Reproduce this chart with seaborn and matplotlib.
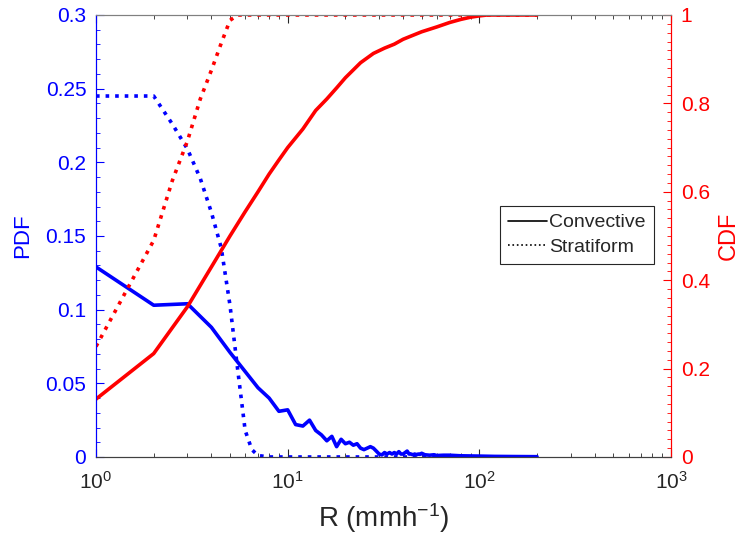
import matplotlib
matplotlib.use("Agg")
import matplotlib.pyplot as plt
import seaborn as sns
from matplotlib.lines import Line2D
from matplotlib.ticker import MultipleLocator, LogLocator

# convective rain rate bins and PDF
r_conv = [1, 2, 3, 4, 5, 6, 7, 8, 9, 10, 11, 12, 13, 14, 15, 16, 17, 18, 19, 20,
          21, 22, 23, 24, 25, 26, 27, 28, 29, 30, 31, 32, 33, 34, 35, 36, 37, 38, 39, 40,
          41, 42, 43, 44, 45, 46, 47, 48, 49, 50, 52, 55, 58, 60, 65, 70, 80, 90, 100,
          120, 150, 200]
pdf_conv = [0.129, 0.103, 0.104, 0.088, 0.071, 0.058, 0.047, 0.040, 0.031, 0.032,
            0.022, 0.021, 0.025, 0.018, 0.015, 0.011, 0.014, 0.007, 0.012, 0.009,
            0.010, 0.008, 0.009, 0.006, 0.005, 0.006, 0.007, 0.006, 0.004, 0.002,
            0.0014, 0.003, 0.002, 0.003, 0.002, 0.003, 0.002, 0.0036, 0.002, 0.002,
            0.003, 0.004, 0.002, 0.002, 0.0015, 0.002, 0.0015, 0.002, 0.0018, 0.0025,
            0.0015, 0.0012, 0.0015, 0.001, 0.0012, 0.0012, 0.0008, 0.0007, 0.0006,
            0.0004, 0.0003, 0.0002]

# convective CDF
r_conv_cdf = [1, 2, 3, 4, 5, 6, 7, 8, 9, 10, 12, 14, 16, 18, 20, 24, 28, 32, 36, 40,
              45, 50, 60, 70, 80, 90, 100, 110, 150, 200]
cdf_conv = [0.131, 0.234, 0.34, 0.43, 0.50, 0.555, 0.60, 0.64, 0.672, 0.70, 0.742,
            0.784, 0.81, 0.835, 0.858, 0.892, 0.913, 0.925, 0.934, 0.945, 0.954,
            0.962, 0.973, 0.983, 0.99, 0.995, 0.998, 1.0, 1.0, 1.0]

# stratiform PDF / CDF
r_strat = [1, 2, 2.5, 3, 3.5, 4, 4.5, 5, 5.5, 6, 6.5, 7, 8, 10, 20, 50, 100, 200]
pdf_strat = [0.245, 0.245, 0.226, 0.209, 0.189, 0.166, 0.142, 0.103, 0.058, 0.018,
             0.005, 0.001, 0, 0, 0, 0, 0, 0]
cdf_strat = [0.25, 0.49, 0.625, 0.715, 0.81, 0.875, 0.936, 0.988, 1.0, 1.0,
             1.0, 1.0, 1.0, 1.0, 1.0, 1.0, 1.0, 1.0]

sns.set_style("white")
plt.rcParams["font.family"] = ["Liberation Sans", "DejaVu Sans"]
plt.rcParams["mathtext.fontset"] = "custom"
plt.rcParams["mathtext.rm"] = "Liberation Sans"
plt.rcParams["mathtext.it"] = "Liberation Sans:italic"

fig = plt.figure(figsize=(7.46, 5.41), dpi=100)
ax = fig.add_axes([0.1287, 0.1553, 0.7708, 0.8170])
ax2 = ax.twinx()

lw = 2.6
sns.lineplot(x=r_conv, y=pdf_conv, ax=ax, color="#0000ff", linewidth=lw)
sns.lineplot(x=r_strat, y=pdf_strat, ax=ax, color="#0000ff", linewidth=lw, linestyle=":")
sns.lineplot(x=r_conv_cdf, y=cdf_conv, ax=ax2, color="#ff0000", linewidth=lw)
sns.lineplot(x=r_strat, y=cdf_strat, ax=ax2, color="#ff0000", linewidth=lw, linestyle=":")

ax.set_xscale("log")
ax.set_xlim(1, 1000)
ax.set_ylim(0, 0.3)
ax2.set_ylim(0, 1)

ax.xaxis.set_major_locator(LogLocator(base=10))
ax.xaxis.set_minor_locator(LogLocator(base=10, subs=range(2, 10)))
ax.yaxis.set_minor_locator(MultipleLocator(0.01))
ax2.yaxis.set_minor_locator(MultipleLocator(0.02))
ax.set_yticks([0, 0.05, 0.1, 0.15, 0.2, 0.25, 0.3])
ax.set_yticklabels(["0", "0.05", "0.1", "0.15", "0.2", "0.25", "0.3"])
ax2.set_yticks([0, 0.2, 0.4, 0.6, 0.8, 1])
ax2.set_yticklabels(["0", "0.2", "0.4", "0.6", "0.8", "1"])

ax.tick_params(axis="x", which="both", direction="in", top=True, bottom=True,
               labelsize=15, colors="#262626", pad=10)
ax.tick_params(axis="x", which="major", length=6)
ax.tick_params(axis="x", which="minor", length=3)
ax.tick_params(axis="y", which="both", direction="in", colors="#0000ff",
               labelsize=15, pad=7)
ax.tick_params(axis="y", which="major", length=6)
ax.tick_params(axis="y", which="minor", length=3)
ax2.tick_params(axis="y", which="both", direction="in", colors="#ff0000",
                labelsize=15, pad=7)
ax2.tick_params(axis="y", which="major", length=6)
ax2.tick_params(axis="y", which="minor", length=3)

for a in (ax, ax2):
    a.spines["top"].set_color("#808080")
    a.spines["bottom"].set_color("#404040")
    a.spines["left"].set_color("#0000ff")
    a.spines["right"].set_color("#ff0000")

ax.set_xlabel("R (mmh$^{-1}$)", fontsize=20, color="#262626", labelpad=6)
ax.set_ylabel("PDF", fontsize=16, color="#0000ff", labelpad=9)
ax2.set_ylabel("CDF", fontsize=17, color="#ff0000", labelpad=6)

handles = [Line2D([], [], color="black", linewidth=1.2, linestyle="-"),
           Line2D([], [], color="black", linewidth=1.2, linestyle=":")]
leg = ax2.legend(handles, ["Convective", "Stratiform"], loc="upper right",
                 bbox_to_anchor=(0.97, 0.568), borderaxespad=0, fontsize=14,
                 frameon=True, fancybox=False, framealpha=1, edgecolor="#262626",
                 handlelength=2.0, handletextpad=0.15, borderpad=0.4, labelspacing=0.35)
leg.get_frame().set_linewidth(0.8)

fig.savefig("out.png", dpi=100)
plt.close(fig)
